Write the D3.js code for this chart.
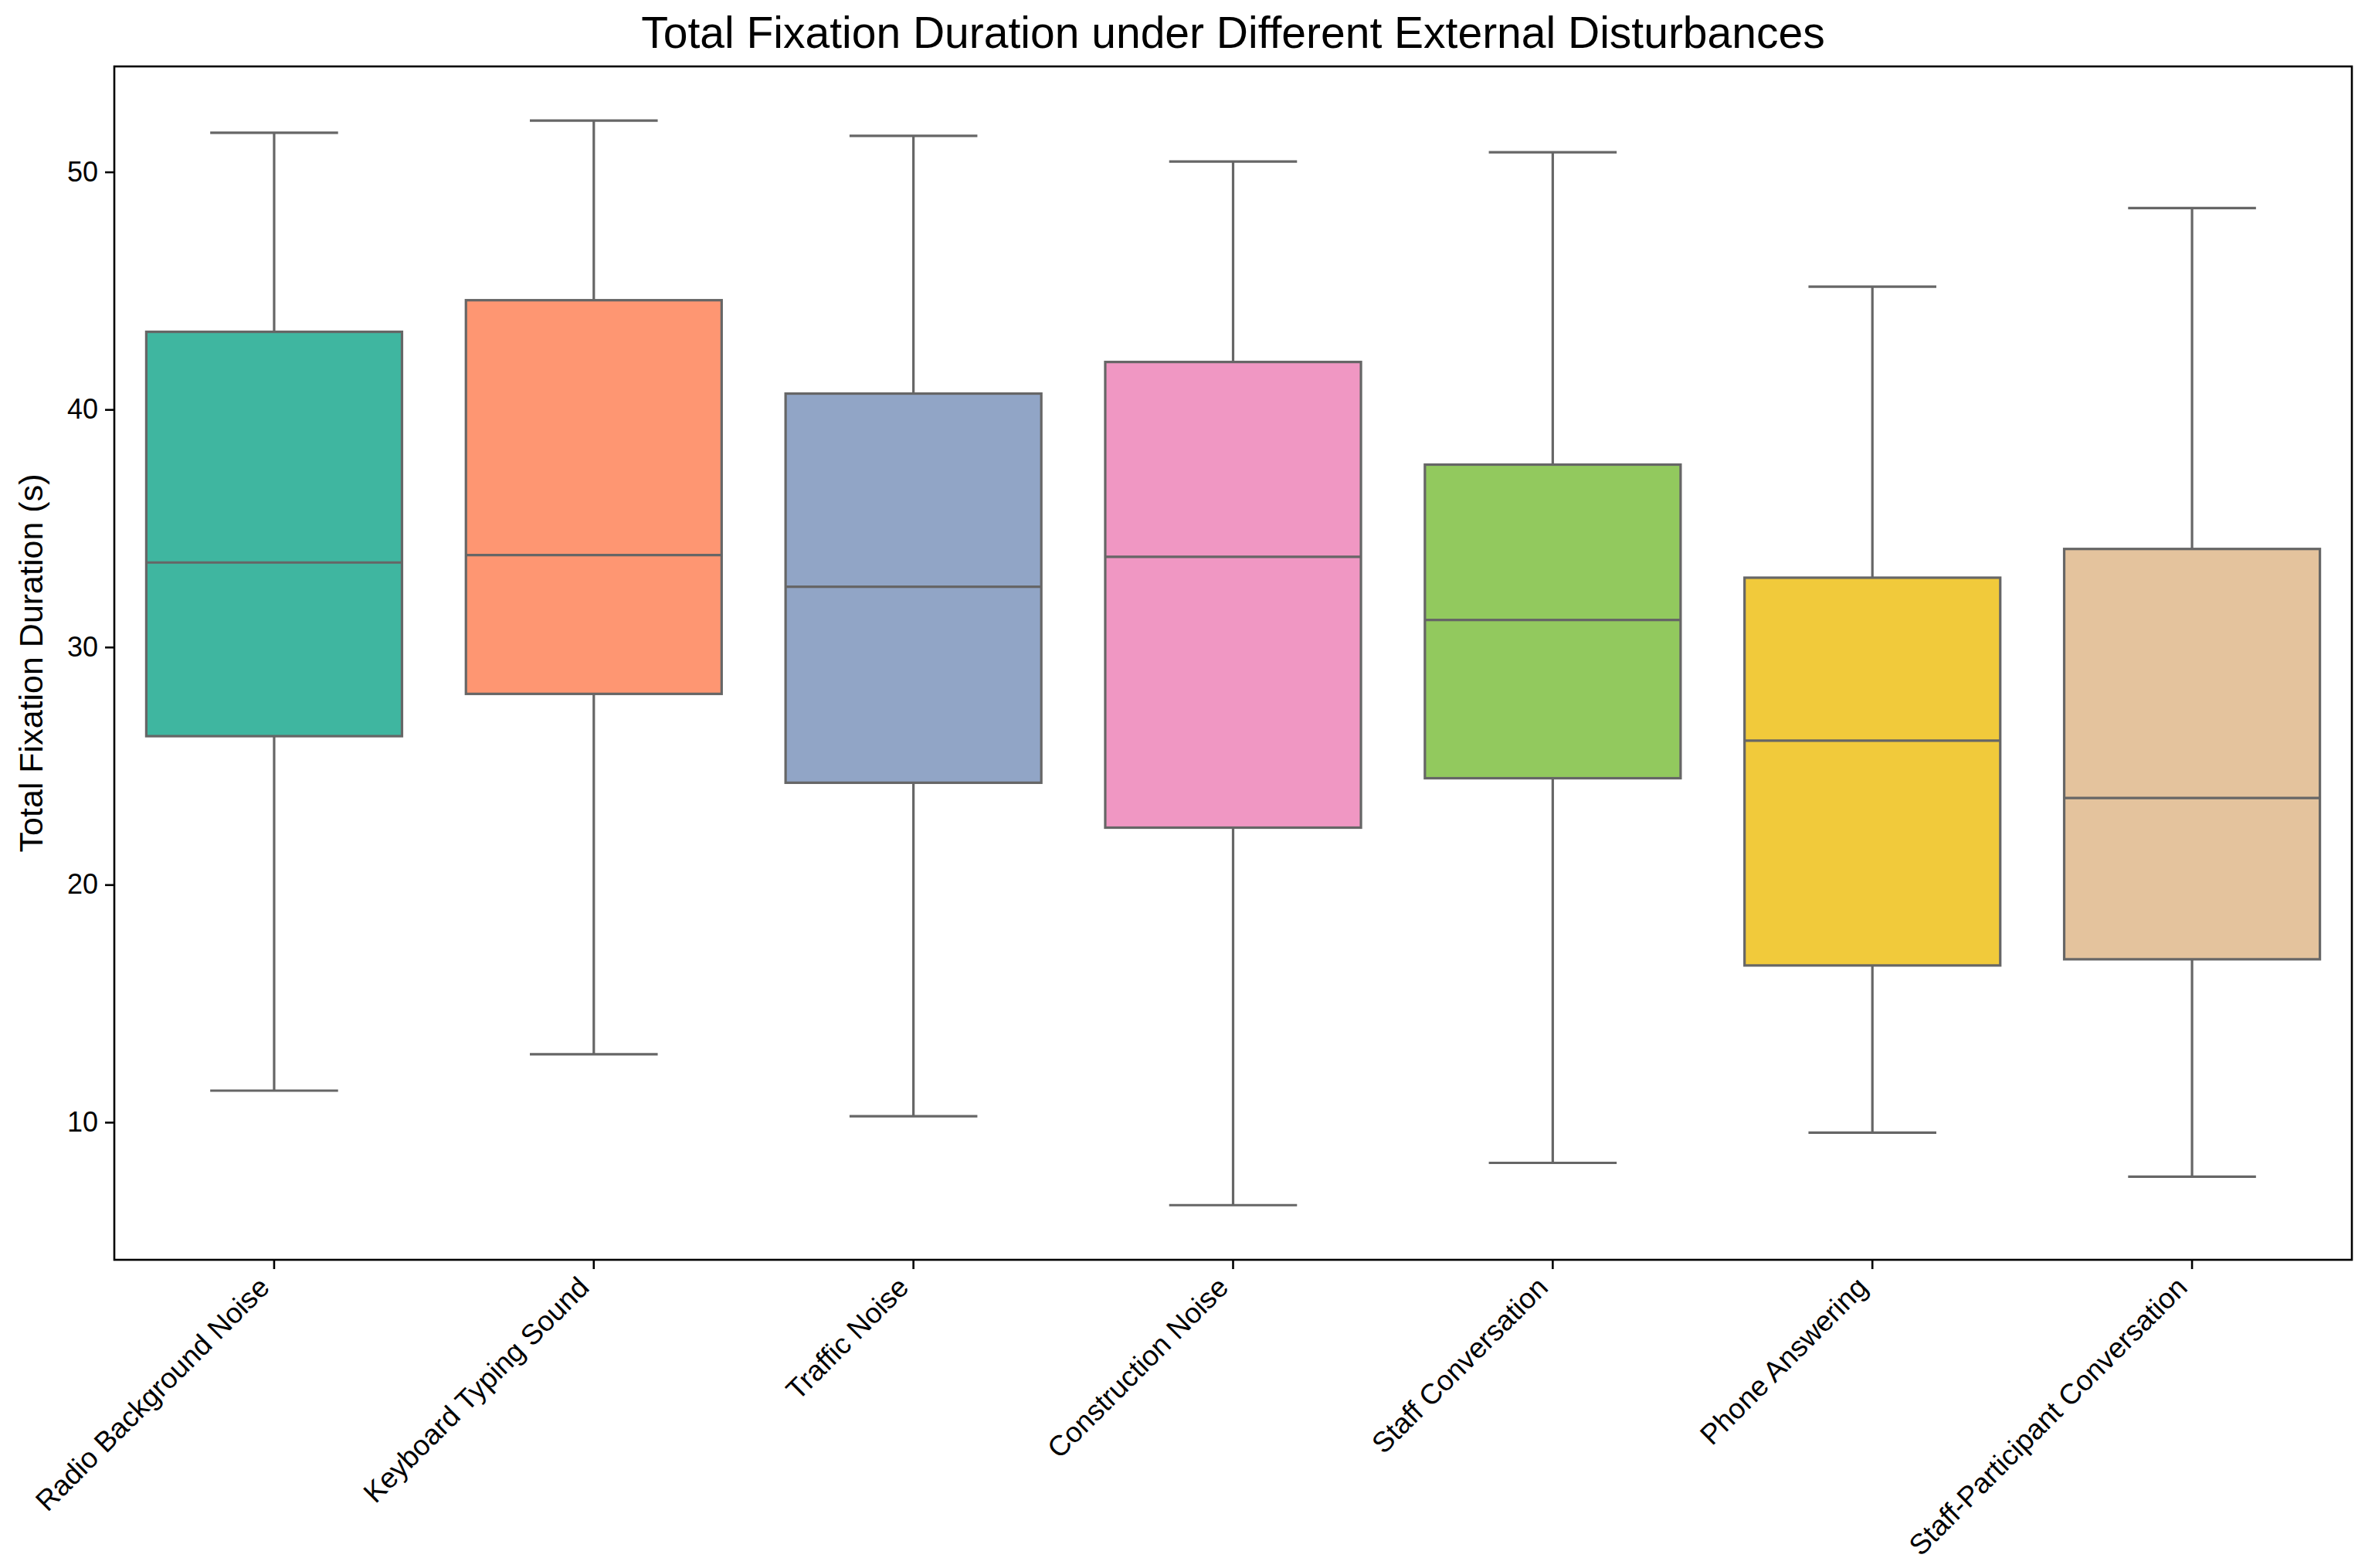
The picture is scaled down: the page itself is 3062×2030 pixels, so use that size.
<!DOCTYPE html>
<html>
<head>
<meta charset="utf-8">
<script src="https://cdn.jsdelivr.net/npm/d3@7"></script>
<style>
  body { margin: 0; background: #fff; }
  text { font-family: "Liberation Sans", Arial, Helvetica, sans-serif; fill: #000; }
</style>
</head>
<body>
<div id="chart"></div>
<script>
var categories = ["Radio Background Noise", "Keyboard Typing Sound", "Traffic Noise",
  "Construction Noise", "Staff Conversation", "Phone Answering", "Staff-Participant Conversation"]
var whiskerLow = [11.33, 12.86, 10.25, 6.51, 8.29, 9.56, 7.71]
var q1 = [26.25, 28.03, 24.29, 22.4, 24.48, 16.6, 16.86]
var median = [33.56, 33.87, 32.54, 33.8, 31.14, 26.06, 23.65]
var q3 = [43.27, 44.6, 40.67, 42.0, 37.68, 32.92, 34.13]
var whiskerHigh = [51.65, 52.16, 51.52, 50.44, 50.83, 45.17, 48.48]
var colors = ["#3fb6a0", "#fe9672", "#91a5c6", "#f097c3", "#92c95e", "#f1ca3b", "#e4c39d"]
var yTicks = [10, 20, 30, 40, 50]

var width = 3062, height = 2030
var margin = { left: 148, right: 17, top: 86, bottom: 399 }
var lineColor = "#666666"

var svg = d3.select("#chart").append("svg")
  .attr("width", width)
  .attr("height", height)

var x = d3.scaleBand()
  .domain(categories)
  .range([margin.left, width - margin.right])
  .paddingInner(0)
  .paddingOuter(0)

var y = d3.scaleLinear()
  .domain([4.21, 54.44])
  .range([height - margin.bottom, margin.top])

var boxW = x.bandwidth() * 0.8
var capW = boxW / 2

var boxes = svg.append("g").attr("class", "boxes")

categories.forEach(function (c, i) {
  var cx = x(c) + x.bandwidth() / 2
  var g = boxes.append("g")

  // whiskers
  g.append("line")
    .attr("x1", cx).attr("x2", cx)
    .attr("y1", y(q3[i])).attr("y2", y(whiskerHigh[i]))
    .attr("stroke", lineColor).attr("stroke-width", 3.2)
  g.append("line")
    .attr("x1", cx).attr("x2", cx)
    .attr("y1", y(q1[i])).attr("y2", y(whiskerLow[i]))
    .attr("stroke", lineColor).attr("stroke-width", 3.2)
  // caps
  g.append("line")
    .attr("x1", cx - capW / 2).attr("x2", cx + capW / 2)
    .attr("y1", y(whiskerHigh[i])).attr("y2", y(whiskerHigh[i]))
    .attr("stroke", lineColor).attr("stroke-width", 3.2)
  g.append("line")
    .attr("x1", cx - capW / 2).attr("x2", cx + capW / 2)
    .attr("y1", y(whiskerLow[i])).attr("y2", y(whiskerLow[i]))
    .attr("stroke", lineColor).attr("stroke-width", 3.2)
  // box
  g.append("rect")
    .attr("x", cx - boxW / 2)
    .attr("y", y(q3[i]))
    .attr("width", boxW)
    .attr("height", y(q1[i]) - y(q3[i]))
    .attr("fill", colors[i])
    .attr("stroke", lineColor)
    .attr("stroke-width", 3.2)
  // median
  g.append("line")
    .attr("x1", cx - boxW / 2).attr("x2", cx + boxW / 2)
    .attr("y1", y(median[i])).attr("y2", y(median[i]))
    .attr("stroke", lineColor).attr("stroke-width", 3.2)
})

// axes
var yAxis = svg.append("g")
  .attr("transform", "translate(" + margin.left + ",0)")
  .call(d3.axisLeft(y).tickValues(yTicks).tickSize(12).tickPadding(9))
yAxis.select(".domain").remove()
yAxis.selectAll(".tick line").attr("stroke", "#000").attr("stroke-width", 2.6)
yAxis.selectAll(".tick text").style("font-size", "36px").attr("fill", "#000")

var xAxis = svg.append("g")
  .attr("transform", "translate(0," + (height - margin.bottom) + ")")
  .call(d3.axisBottom(x).tickSize(12).tickPadding(0))
xAxis.select(".domain").remove()
xAxis.selectAll(".tick line").attr("stroke", "#000").attr("stroke-width", 2.6)
xAxis.selectAll(".tick text")
  .style("font-size", "37px")
  .attr("fill", "#000")
  .attr("text-anchor", "end")
  .attr("dy", null)
  .attr("y", null)
  .attr("transform", "translate(-4,38) rotate(-45)")

// frame
svg.append("rect")
  .attr("x", margin.left)
  .attr("y", margin.top)
  .attr("width", width - margin.left - margin.right)
  .attr("height", height - margin.top - margin.bottom)
  .attr("fill", "none")
  .attr("stroke", "#000")
  .attr("stroke-width", 2.6)

// labels
svg.append("text")
  .attr("x", (margin.left + width - margin.right) / 2)
  .attr("y", 62)
  .attr("text-anchor", "middle")
  .style("font-size", "57px")
  .text("Total Fixation Duration under Different External Disturbances")

svg.append("text")
  .attr("transform", "translate(55," + ((margin.top + height - margin.bottom) / 2) + ") rotate(-90)")
  .attr("text-anchor", "middle")
  .style("font-size", "43px")
  .text("Total Fixation Duration (s)")
</script>
</body>
</html>
